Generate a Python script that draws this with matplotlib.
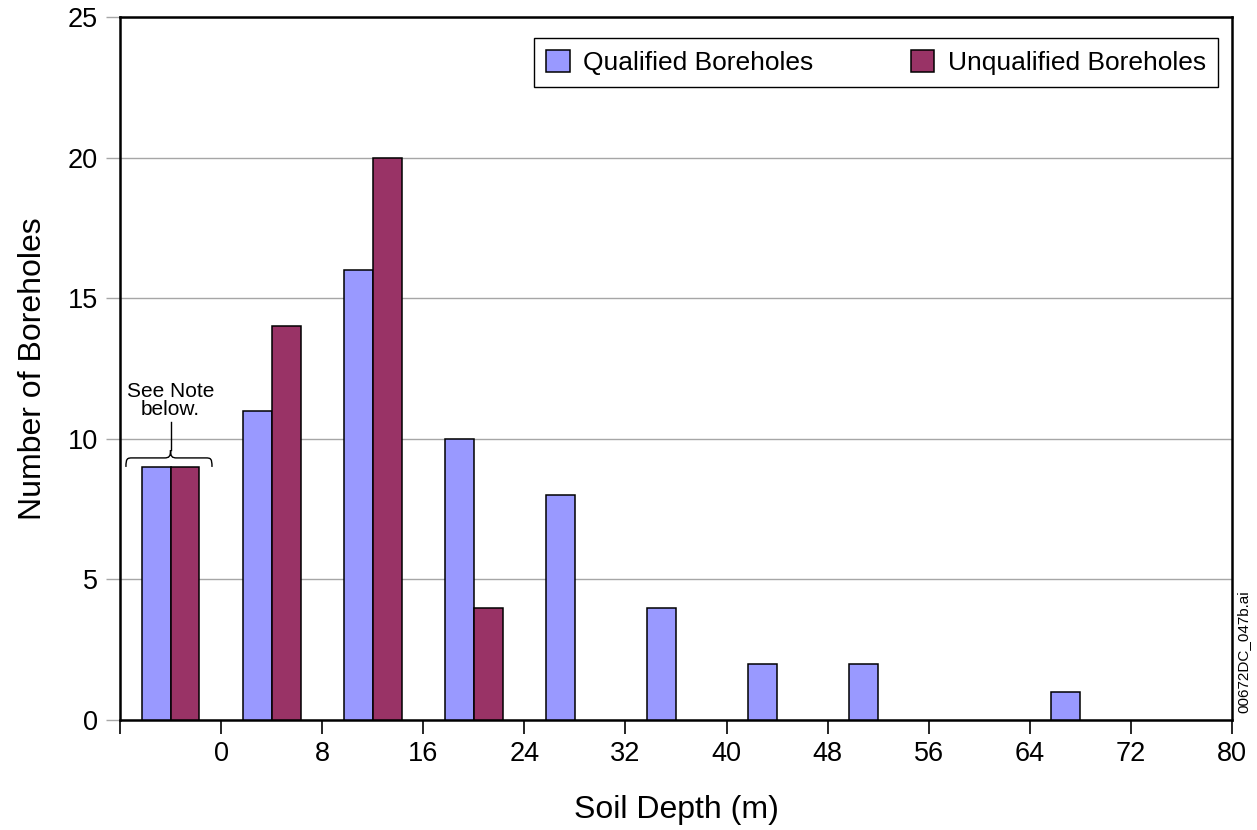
import numpy as np
import matplotlib
matplotlib.use("Agg")
import matplotlib.pyplot as plt
from matplotlib.path import Path
from matplotlib.patches import PathPatch

plt.rcParams.update({
    "font.family": ["Liberation Sans", "DejaVu Sans"],
})

# ---- data ----
bin_centers = [-4, 4, 12, 20, 28, 36, 44, 52, 60, 68, 76]
qualified = [9, 11, 16, 10, 8, 4, 2, 2, 0, 1, 0]
unqualified = [9, 14, 20, 4, 0, 0, 0, 0, 0, 0, 0]
xticks = [-8, 0, 8, 16, 24, 32, 40, 48, 56, 64, 72, 80]
xtick_labels = ["", "0", "8", "16", "24", "32", "40", "48", "56", "64", "72", "80"]
yticks = [0, 5, 10, 15, 20, 25]

Q_COL = "#9999FF"
U_COL = "#993366"
GRID = "#a6a6a6"

fig = plt.figure(figsize=(12.57, 8.30), dpi=100)
ax = fig.add_axes([120 / 1257, 1 - 720 / 830, 1112 / 1257, 703 / 830])

w = 2.29
xc = np.array(bin_centers, dtype=float)
q = np.array(qualified)
u = np.array(unqualified)
mq = q > 0
mu = u > 0
ax.bar(xc[mq] - w / 2, q[mq], width=w, color=Q_COL, edgecolor="black",
       linewidth=1.1, label="Qualified Boreholes", zorder=3)
ax.bar(xc[mu] + w / 2, u[mu], width=w, color=U_COL, edgecolor="black",
       linewidth=1.1, label="Unqualified Boreholes", zorder=3)

ax.set_xlim(-8, 80)
ax.set_ylim(0, 25)
ax.set_xticks(xticks)
ax.set_xticklabels(xtick_labels)
ax.set_yticks(yticks)
ax.yaxis.grid(True, color=GRID, linewidth=1.0, zorder=0)
ax.tick_params(axis="x", direction="out", length=10, width=1.2,
               colors="black", labelsize=19.5, pad=5)
ax.tick_params(axis="y", direction="out", length=10, width=1.0,
               color=GRID, labelcolor="black", labelsize=19.5, pad=6)
for s in ax.spines.values():
    s.set_color("black")
    s.set_linewidth(1.8)

ax.set_xlabel("Soil Depth (m)", fontsize=23, labelpad=20)
ax.set_ylabel("Number of Boreholes", fontsize=23, labelpad=14)

leg = ax.legend(loc="upper right", bbox_to_anchor=(0.987, 0.970),
                borderaxespad=0, ncol=2, fontsize=19, frameon=True,
                fancybox=False, edgecolor="black", framealpha=1,
                handlelength=0.9, handleheight=0.9, handletextpad=0.5,
                columnspacing=3.7, borderpad=0.45)
leg._legend_box.sep = 0
leg.get_frame().set_linewidth(1.0)

# ---- brace annotation ----
x0, x1, xm = -7.53, -0.72, -4.0
yt, yh, yc = 9.0, 9.32, 9.6
verts = [
    (x0, yt), (x0, yh - 0.02), (x0 + 0.1, yh), (x0 + 0.5, yh),
    (xm - 0.5, yh),
    (xm - 0.1, yh), (xm, yh + 0.05), (xm, yc),
    (xm, yh + 0.05), (xm + 0.1, yh), (xm + 0.5, yh),
    (x1 - 0.5, yh),
    (x1 - 0.1, yh), (x1, yh - 0.02), (x1, yt),
]
codes = [Path.MOVETO, Path.CURVE4, Path.CURVE4, Path.CURVE4,
         Path.LINETO,
         Path.CURVE4, Path.CURVE4, Path.CURVE4,
         Path.CURVE4, Path.CURVE4, Path.CURVE4,
         Path.LINETO,
         Path.CURVE4, Path.CURVE4, Path.CURVE4]
ax.add_patch(PathPatch(Path(verts, codes), fill=False, edgecolor="black",
                       linewidth=1.0, zorder=4))
ax.plot([xm, xm], [yc, 10.6], color="black", linewidth=1.0, zorder=4)
ax.text(xm, 10.7, "See Note\nbelow.", ha="center", va="bottom",
        fontsize=15, linespacing=0.95, zorder=5)

fig.text(1243 / 1257, 1 - 652 / 830, "00672DC_047b.ai", rotation=90,
         ha="center", va="center", fontsize=11)

fig.savefig("out.png", dpi=100, facecolor="white")
